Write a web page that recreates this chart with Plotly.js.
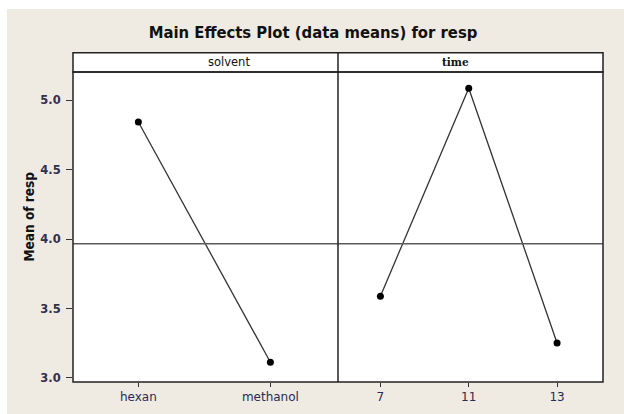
<!DOCTYPE html>
<html><head><meta charset="utf-8">
<script src="https://cdn.plot.ly/plotly-3.0.1.min.js"></script>
<style>html,body{margin:0;padding:0;background:#fff;}#c{position:absolute;left:7px;top:9px;width:617px;height:405px;}</style>
</head><body><div id="c"></div>
<script>
const solventLevels = ['hexan', 'methanol'];
const solventMeans = [4.844, 3.113];
const timeLevels = ['7', '11', '13'];
const timeMeans = [3.589, 5.087, 3.252];
const grandMean = 3.966;
const yTicks = [3.0, 3.5, 4.0, 4.5, 5.0];

const lineStyle = {color: '#333', width: 1.3};
const markerStyle = {color: '#000', size: 7};
const traces = [
  {x: solventLevels, y: solventMeans, xaxis: 'x', yaxis: 'y', mode: 'lines+markers', line: lineStyle, marker: markerStyle, hoverinfo: 'skip'},
  {x: timeLevels, y: timeMeans, xaxis: 'x2', yaxis: 'y2', mode: 'lines+markers', line: lineStyle, marker: markerStyle, hoverinfo: 'skip'}
];
const stripTop = 1 + 19.3/310;
const tickFontX = {family: '"DejaVu Sans", sans-serif', size: 12, color: '#2a2a55'};
const tickFontY = {family: '"DejaVu Sans", sans-serif', size: 11.5, color: '#303050', weight: 'bold'};
const layout = {
  width: 617, height: 405,
  paper_bgcolor: '#f0ebe2', plot_bgcolor: '#ffffff',
  margin: {l: 66, r: 21, t: 63, b: 32, pad: 0},
  showlegend: false,
  title: {text: 'Main Effects Plot (data means) for resp', x: 0.496, xref: 'container', y: 1 - 23/405, yanchor: 'middle',
          font: {family: '"DejaVu Sans Condensed", "DejaVu Sans", sans-serif', size: 16.5, color: '#111', weight: 'bold'}},
  xaxis: {domain: [0, 0.5], type: 'category', categoryarray: solventLevels, range: [-0.495, 1.512],
          showgrid: false, zeroline: false, ticks: 'outside', ticklen: 4, tickcolor: '#333', tickfont: tickFontX, showline: false, fixedrange: true},
  xaxis2: {domain: [0.5, 1], type: 'category', categoryarray: timeLevels, range: [-0.48, 2.52], anchor: 'y2',
          showgrid: false, zeroline: false, ticks: 'outside', ticklen: 4, tickcolor: '#333', tickfont: tickFontX, showline: false, fixedrange: true},
  yaxis: {range: [2.971, 5.204], tickvals: yTicks, ticktext: yTicks.map(v => v.toFixed(1)), showgrid: false, zeroline: false,
          ticks: 'outside', ticklen: 6, tickcolor: '#333', tickfont: tickFontY, ticklabelstandoff: 3},
  yaxis2: {range: [2.971, 5.204], anchor: 'x2', matches: 'y', showticklabels: false, showgrid: false, zeroline: false, ticks: ''},
  shapes: [
    {type: 'line', xref: 'paper', yref: 'y', x0: 0, x1: 1, y0: grandMean, y1: grandMean, line: {color: '#5a5a5a', width: 1.5}},
    {type: 'rect', xref: 'paper', yref: 'paper', x0: 0, x1: 1, y0: 1, y1: stripTop, fillcolor: '#fff', line: {color: '#222', width: 1.5}},
    {type: 'rect', xref: 'paper', yref: 'paper', x0: 0, x1: 1, y0: 0, y1: 1, line: {color: '#222', width: 1.5}},
    {type: 'line', xref: 'paper', yref: 'paper', x0: 0.5, x1: 0.5, y0: 0, y1: stripTop, line: {color: '#222', width: 1.5}}
  ],
  annotations: [
    {text: 'solvent', xref: 'paper', yref: 'paper', x: 0.25, y: (1 + stripTop)/2, showarrow: false, yanchor: 'middle',
     font: {family: '"DejaVu Sans", sans-serif', size: 11.5, color: '#111'}},
    {text: 'time', xref: 'paper', yref: 'paper', x: 0.75, y: (1 + stripTop)/2, showarrow: false, yanchor: 'middle',
     font: {family: '"DejaVu Serif", serif', size: 10.5, color: '#111', weight: 'bold'}},
    {text: 'Mean of resp', xref: 'paper', yref: 'paper', x: -44/530, y: 1 - (207.5 - 63)/310, xanchor: 'center', yanchor: 'middle',
     textangle: -90, showarrow: false,
     font: {family: '"DejaVu Sans Condensed", "DejaVu Sans", sans-serif', size: 13.5, color: '#111', weight: 'bold'}}
  ]
};
Plotly.newPlot('c', traces, layout, {staticPlot: true, displayModeBar: false});
</script></body></html>
